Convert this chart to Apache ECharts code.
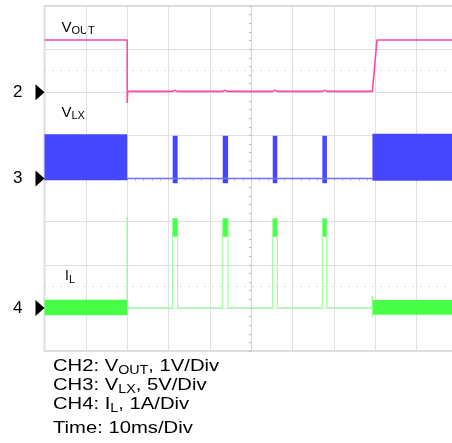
<!DOCTYPE html>
<html>
<head>
<meta charset="utf-8">
<script src="https://cdn.jsdelivr.net/npm/echarts@6/dist/echarts.min.js"></script>
<style>
  html, body { margin: 0; padding: 0; background: #ffffff; }
  #chart { width: 452px; height: 443px; }
</style>
</head>
<body>
<div id="chart"></div>
<script>
// Time base: ms relative to the trigger (screen centre), 10 ms per division
const timeMin = -50;
const timeMax = 50;
const timeStep = 10;

// CH2 – output voltage, 1 V/div (V)
const voutTime  = [-50, -30.0, -30.0, -29.9, -19.0, -18.5, -17.9, -6.9, -6.4, -5.8, 5.2, 5.7, 6.3, 17.2, 17.7, 18.3, 29.3, 30.4, 50];
const voutLevel = [1.21, 1.21, -0.25, 0.02, 0.02, 0.05, 0.02, 0.02, 0.05, 0.02, 0.02, 0.05, 0.02, 0.02, 0.05, 0.02, 0.02, 1.21, 1.21];

// Switching bursts (continuous PWM) – start / end times (ms)
const burstStart = [-50, 29.3];
const burstEnd   = [-30.0, 50];

// Single pulses while the output is off (ms)
const pulseStart = [-19.0, -6.9, 5.2, 17.2];
const pulseEnd   = [-17.8, -5.6, 6.3, 18.3];

// CH3 – switch node, 5 V/div (V)
const vlxBurstLow  = [-0.2, -0.25];
const vlxBurstHigh = [5.12, 5.2];
const vlxPulseLow  = [-0.55, -0.55, -0.55, -0.55];
const vlxPulseHigh = [4.95, 4.95, 4.95, 4.95];
const vlxIdleTime  = [-30.0, 29.3];
const vlxIdleLevel = [0, 0];

// CH4 – inductor current, 1 A/div (A)
const ilBurstLow   = [-0.17, -0.16];
const ilBurstHigh  = [0.19, 0.18];
const ilPulsePeak  = [2.07, 2.07, 2.07, 2.07];
const ilPulseKnee  = [1.65, 1.65, 1.65, 1.65];
const ilStopSpike  = 2.1;          // at the end of the first burst
const ilStartSpike = [-0.22, 0.27]; // at the start of the second burst

// Channel ground markers
const channelNames = ['2', '3', '4'];

const PINK = '#ff4aa3';
const BLUE = '#4646ff';
const BLUE_THIN = '#7272ff';
const GREEN = '#47ff47';
const GREEN_THIN = '#8dff8d';
const FONT = 'Liberation Sans, Arial, sans-serif';

// rectangles: [t0, t1, low, high]
const vlxBlocks = [];
burstStart.forEach((t, i) => vlxBlocks.push([t, burstEnd[i], vlxBurstLow[i], vlxBurstHigh[i]]));
pulseStart.forEach((t, i) => vlxBlocks.push([t, pulseEnd[i], vlxPulseLow[i], vlxPulseHigh[i]]));

const ilBlocks = [];
burstStart.forEach((t, i) => ilBlocks.push([t, burstEnd[i], ilBurstLow[i], ilBurstHigh[i]]));
pulseStart.forEach((t, i) => ilBlocks.push([t, pulseEnd[i], ilPulseKnee[i], ilPulsePeak[i]]));

// thin inductor-current trace between the bursts
const ilTrace = [[burstEnd[0], ilBurstHigh[0]], [burstEnd[0], ilStopSpike], [burstEnd[0] + 0.05, 0]];
pulseStart.forEach((t, i) => {
  ilTrace.push([t, 0], [t, ilPulsePeak[i]], [pulseEnd[i], ilPulsePeak[i]], [pulseEnd[i], 0]);
});
ilTrace.push([burstStart[1] - 0.05, 0], [burstStart[1], ilStartSpike[1]], [burstStart[1], ilStartSpike[0]]);

const voutData = voutTime.map((t, i) => [t, voutLevel[i]]);
const vlxIdle = vlxIdleTime.map((t, i) => [t, vlxIdleLevel[i]]);

function rectRenderer(color) {
  return function (params, api) {
    const a = api.coord([api.value(0), api.value(3)]);
    const b = api.coord([api.value(1), api.value(2)]);
    return {
      type: 'rect',
      shape: { x: a[0], y: a[1], width: b[0] - a[0], height: b[1] - a[1] },
      style: { fill: color }
    };
  };
}

function groundMarker(name) {
  return {
    silent: true,
    symbol: 'triangle',
    symbolSize: [16, 9],
    symbolRotate: -90,
    symbolOffset: [-4.5, 0],
    itemStyle: { color: '#000' },
    label: {
      show: true, formatter: name, position: 'left', distance: 13,
      color: '#000', fontSize: 17, fontFamily: FONT
    },
    data: [{ coord: [timeMin, 0] }]
  };
}

function halfDivLine(value) {
  return {
    silent: true,
    symbol: ['none', 'none'],
    label: { show: false },
    lineStyle: { color: '#bdbdbd', type: [1, 7], width: 1 },
    data: [{ yAxis: value }]
  };
}

const grid = { left: 44.5, top: 6, width: 413.5, height: 345 };
const gridLine = { show: true, lineStyle: { color: '#e0e0e0', width: 1 } };
const centreTicks = {
  axisTick: { show: true, length: 2, lineStyle: { color: '#b5b5b5' } },
  minorTick: { show: true, splitNumber: 5, length: 2, lineStyle: { color: '#b5b5b5' } }
};

function richLabel(left, top, parts, main, sub, lh, sx) {
  return {
    type: 'text', left: left, top: top, silent: true, scaleX: sx || 1,
    style: {
      text: parts,
      rich: {
        m: { fontSize: main, lineHeight: lh, fontFamily: FONT, fill: '#000' },
        s: { fontSize: sub, lineHeight: sub, verticalAlign: 'bottom', fontFamily: FONT, fill: '#000' }
      }
    }
  };
}

const chart = echarts.init(document.getElementById('chart'), null, { renderer: 'canvas' });
chart.setOption({
  animation: false,
  backgroundColor: '#ffffff',
  grid: Object.assign({ show: true, borderWidth: 2, borderColor: '#d9d9d9', outerBoundsMode: 'none', containLabel: false }, grid),
  xAxis: Object.assign({
    type: 'value', min: timeMin, max: timeMax, interval: timeStep,
    axisLabel: { show: false },
    axisLine: { show: true, onZero: true, onZeroAxisIndex: 1, lineStyle: { color: '#d2d2d2', width: 1 } },
    splitLine: gridLine
  }, centreTicks),
  yAxis: [
    Object.assign({
      type: 'value', min: -6, max: 2, interval: 1,
      axisLabel: { show: false },
      axisLine: { show: true, onZero: true, lineStyle: { color: '#d2d2d2', width: 1 } },
      splitLine: gridLine
    }, centreTicks),
    {
      type: 'value', min: -20, max: 20, interval: 5,
      axisLabel: { show: false }, axisTick: { show: false }, splitLine: { show: false },
      axisLine: { show: true, onZero: false, lineStyle: { color: '#c4c4c4', width: 2 } }
    },
    {
      type: 'value', min: -1, max: 7, interval: 1, position: 'left',
      axisLabel: { show: false }, axisTick: { show: false }, splitLine: { show: false },
      axisLine: { show: false }
    }
  ],
  graphic: [
    richLabel(61.5, 20, '{m|V}{s|OUT}', 15, 11, 18),
    richLabel(61.5, 105, '{m|V}{s|LX}', 15, 11, 18),
    richLabel(65, 269.5, '{m|I}{s|L}', 14, 11, 18),
    richLabel(53, 358, '{m|CH2: V}{s|OUT}{m|, 1V/Div}', 17, 12, 20, 1.19),
    richLabel(53, 377, '{m|CH3: V}{s|LX}{m|, 5V/Div}', 17, 12, 20, 1.19),
    richLabel(53, 396, '{m|CH4: I}{s|L}{m|, 1A/Div}', 17, 12, 20, 1.19),
    richLabel(53, 420, '{m|Time: 10ms/Div}', 17, 12, 20, 1.19)
  ],
  series: [
    {
      name: 'VOUT', type: 'line', yAxisIndex: 0, data: voutData,
      showSymbol: false, silent: true, clip: true,
      lineStyle: { color: PINK, width: 1.6 },
      markLine: halfDivLine(0.5),
      markPoint: groundMarker(channelNames[0])
    },
    {
      name: 'VLX idle', type: 'line', yAxisIndex: 1, data: vlxIdle,
      showSymbol: false, silent: true,
      lineStyle: { color: BLUE_THIN, width: 1.5 },
      markPoint: groundMarker(channelNames[1])
    },
    {
      name: 'VLX', type: 'custom', yAxisIndex: 1, silent: true,
      data: vlxBlocks, encode: { x: [0, 1], y: [2, 3] },
      renderItem: rectRenderer(BLUE)
    },
    {
      name: 'IL trace', type: 'line', yAxisIndex: 2, data: ilTrace,
      showSymbol: false, silent: true,
      lineStyle: { color: GREEN_THIN, width: 1 },
      markLine: halfDivLine(0.5),
      markPoint: groundMarker(channelNames[2])
    },
    {
      name: 'IL', type: 'custom', yAxisIndex: 2, silent: true,
      data: ilBlocks, encode: { x: [0, 1], y: [2, 3] },
      renderItem: rectRenderer(GREEN)
    }
  ]
});
</script>
</body>
</html>
